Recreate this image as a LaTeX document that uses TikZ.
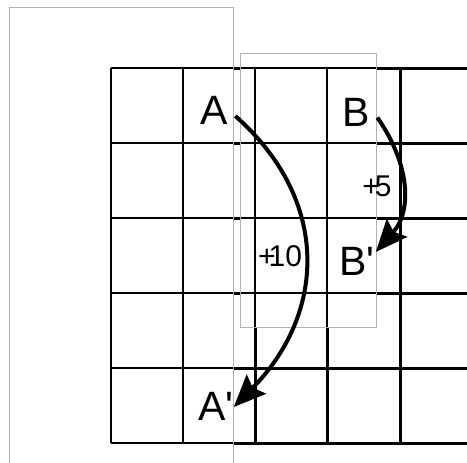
\documentclass[tikz,border=0pt]{standalone}
\usepackage{fontspec}
\newfontfamily\labfont{Liberation Sans}
\usetikzlibrary{arrows.meta}
\begin{document}
\begin{tikzpicture}[x=1pt,y=-1pt,
  thin grid/.style={line width=1.7pt},
  thick grid/.style={line width=3pt},
  frame/.style={draw=gray!60, line width=0.8pt},
  letter/.style={font=\labfont\fontsize{41}{41}\selectfont, inner sep=0pt},
  step label/.style={font=\labfont\fontsize{30}{30}\selectfont, inner sep=0pt},
  move/.style={line width=4pt, -{Stealth[length=32pt,width=27pt,inset=5pt]}}]
\useasboundingbox (0,0) rectangle (467,463);
\fill[white] (0,0) rectangle (467,463);
% grid, thin everywhere
\foreach \y in {68,143,218,293,368,443} \draw[thin grid] (111,\y) -- (467,\y);
\foreach \x in {111,183,255,327,400} \draw[thin grid] (\x,68) -- (\x,443);
% grid, thick on the right outside the overlay
\begin{scope}[even odd rule]
  \clip (233,0) rectangle (467,463) (240,53) rectangle (376,327);
  \foreach \y in {68,143,218,293,368,443} \draw[thick grid] (111,\y) -- (467,\y);
  \foreach \x in {111,183,255,327,400} \draw[thick grid] (\x,68) -- (\x,443);
\end{scope}
% frames
\draw[frame] (9,463) -- (9,7) -- (233,7) -- (233,463);
\draw[frame] (240,53) rectangle (376,327);
% labels
\node[letter] (A) at (214.5,110) {A};
\node[letter] (B) at (356.5,112.5) {B};
\node[letter] (B2) at (357,261) {B'};
\node[letter] (A2) at (216,406) {A'};
\node[step label] (p5) at (377,186) {+\kern-5pt 5};
\node[step label] (p10) at (280,256) {+\kern-7pt 10};
% moves
\draw[move] ([shift={(7,6)}]A.east) .. controls +(97,86) and +(91,-92) .. ([shift={(0,1)}]A2.east);
\draw[move] ([shift={(7,5)}]B.east) .. controls +(32,46) and +(37,-42) .. ([shift={(1,-9)}]B2.east);
\end{tikzpicture}
\end{document}
